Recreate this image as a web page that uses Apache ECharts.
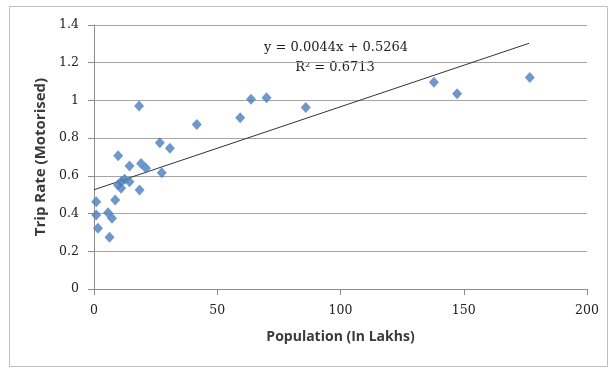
<!DOCTYPE html>
<html>
<head>
<meta charset="utf-8">
<script src="https://cdn.jsdelivr.net/npm/echarts@6/dist/echarts.min.js"></script>
<style>
  html, body { margin: 0; padding: 0; background: #fff; }
  #chart { width: 614px; height: 372px; }
</style>
</head>
<body>
<div id="chart"></div>
<script>
// population (lakhs) and motorised trip rate
const population = [18.3, 41.7, 59.3, 63.7, 70.0, 85.9, 137.9, 147.3, 176.8,
  26.7, 30.8, 9.8, 14.4, 19.1, 21.1, 27.5, 11.0, 12.4, 9.7, 11.0, 14.4, 18.5,
  8.6, 0.9, 0.9, 5.7, 7.3, 1.6, 6.3]
const tripRate = [0.97, 0.873, 0.908, 1.006, 1.014, 0.963, 1.096, 1.036, 1.122,
  0.776, 0.746, 0.707, 0.652, 0.666, 0.64, 0.617, 0.569, 0.582, 0.551, 0.534, 0.569, 0.525,
  0.472, 0.463, 0.392, 0.405, 0.375, 0.322, 0.274]

// linear trendline end points
const trendX = [0, 176.5]
const trendY = [0.5264, 1.303]

const equationText = 'y = 0.0044x + 0.5264'
const r2Text = 'R² = 0.6713'

const chart = echarts.init(document.getElementById('chart'))

const tickFont = { fontFamily: 'DejaVu Serif, serif', fontSize: 12.5, color: '#222' }
const titleFont = { fontFamily: 'Open Sans, sans-serif', fontWeight: 'bold', color: '#3a3a3a' }

const option = {
  animation: false,
  backgroundColor: '#fff',
  grid: { left: 94, right: 27, top: 25, bottom: 83 },
  xAxis: {
    type: 'value',
    min: 0, max: 200, interval: 50,
    name: 'Population (In Lakhs)',
    nameLocation: 'middle',
    nameGap: 41,
    nameTextStyle: { ...titleFont, fontSize: 14 },
    axisLine: { lineStyle: { color: '#8c8c8c' } },
    axisTick: { show: true, inside: false, length: 6, lineStyle: { color: '#8c8c8c' } },
    axisLabel: { margin: 15, ...tickFont },
    splitLine: { show: false }
  },
  yAxis: {
    type: 'value',
    min: 0, max: 1.4, interval: 0.2,
    name: 'Trip Rate (Motorised)',
    nameLocation: 'middle',
    nameGap: 41,
    nameTextStyle: { ...titleFont, fontSize: 15 },
    axisLine: { show: true, lineStyle: { color: '#8c8c8c' } },
    axisTick: { show: true, inside: false, length: 6, lineStyle: { color: '#8c8c8c' } },
    axisLabel: { margin: 15, ...tickFont,
      formatter: v => String(Math.round(v * 10) / 10) },
    splitLine: { lineStyle: { color: '#a6a6a6', width: 1 } }
  },
  graphic: [
    { type: 'rect', shape: { x: 9.5, y: 6.5, width: 598, height: 360 },
      style: { fill: 'none', stroke: '#bfbfbf', lineWidth: 1 }, silent: true },
    { type: 'text', x: 336, y: 48,
      style: { text: equationText, fill: '#222', font: '13px "DejaVu Serif", serif',
        textAlign: 'center', textVerticalAlign: 'middle' } },
    { type: 'text', x: 335, y: 68,
      style: { text: r2Text, fill: '#222', font: '13px "DejaVu Serif", serif',
        textAlign: 'center', textVerticalAlign: 'middle' } }
  ],
  series: [
    {
      type: 'line',
      data: trendX.map((x, i) => [x, trendY[i]]),
      symbol: 'none',
      lineStyle: { color: '#333', width: 1 },
      z: 1
    },
    {
      type: 'scatter',
      data: population.map((x, i) => [x, tripRate[i]]),
      symbol: 'diamond',
      symbolSize: [10, 11],
      itemStyle: { color: '#4a7ebb' },
      z: 2
    }
  ]
}

chart.setOption(option)
</script>
</body>
</html>
